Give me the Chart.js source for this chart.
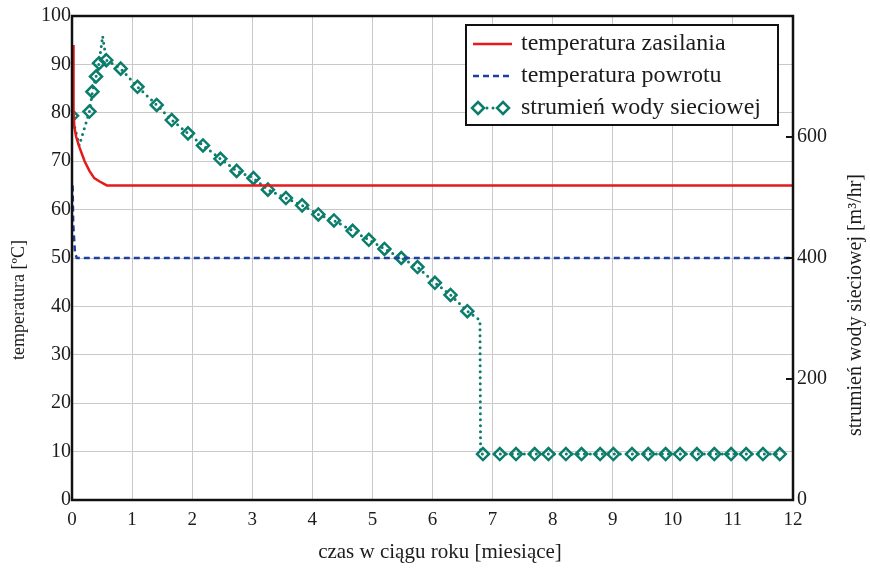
<!DOCTYPE html>
<html>
<head>
<meta charset="utf-8">
<script src="https://cdn.jsdelivr.net/npm/chart.js@4.4.1/dist/chart.umd.min.js"></script>
<style>
    html, body { margin: 0; padding: 0; background: #fff; }
    #wrap { width: 870px; height: 568px; }
</style>
</head>
<body>
<div id="wrap"><canvas id="chart" width="870" height="568"></canvas></div>
<script>
// Tick labels
const monthTicks = [0, 1, 2, 3, 4, 5, 6, 7, 8, 9, 10, 11, 12];
const tempTicks = [0, 10, 20, 30, 40, 50, 60, 70, 80, 90, 100];
const flowTicks = [0, 200, 400, 600];

// temperatura zasilania [°C]
const supplyMonths = [0.02, 0.025, 0.04, 0.07, 0.12, 0.21, 0.29, 0.37, 0.46, 0.58, 12];
const supplyTemp = [94, 80, 77, 75, 73, 70, 68, 66.5, 65.8, 65, 65];

// temperatura powrotu [°C]
const returnMonths = [0.01, 0.02, 0.05, 0.08, 12];
const returnTemp = [65, 57, 51, 50, 50];

// strumień wody sieciowej [m3/hr]
const flowMonths = [0, 0.12, 0.29, 0.34, 0.4, 0.45, 0.51, 0.57, 0.81, 1.09, 1.41, 1.66, 1.93,
    2.18, 2.47, 2.74, 3.02, 3.26, 3.56, 3.83, 4.1, 4.36, 4.67, 4.94, 5.2, 5.48, 5.75,
    6.04, 6.3, 6.58, 6.79, 6.8, 6.84, 7.12, 7.39, 7.7, 7.93, 8.22, 8.48, 8.79, 9.01,
    9.32, 9.59, 9.88, 10.12, 10.4, 10.69, 10.97, 11.22, 11.5, 11.78];
const flowValues = [635, 586, 642, 675, 700, 722, 767, 727, 713, 683, 653, 628, 606,
    586, 564, 544, 532, 513, 499, 487, 472, 462, 445, 430, 415, 400, 385,
    359, 339, 312, 297, 76, 76, 76, 76, 76, 76, 76, 76, 76, 76,
    76, 76, 76, 76, 76, 76, 76, 76, 76, 76];
// bends of the line that carry no marker
const flowBends = [0.12, 0.51, 6.79, 6.8];

const RED = '#e41a1c';
const BLUE = '#1f3f9e';
const TEAL = '#0b7d6b';
const GRID = '#c9c9c9';
const INK = '#1c1c1c';
const SERIF = "'Liberation Serif', 'DejaVu Serif', serif";

function toPoints(xs, ys) {
    return xs.map((x, i) => ({ x: x, y: ys[i] }));
}

const flowPoints = toPoints(flowMonths, flowValues);
const markerPoints = flowPoints.filter(p => !flowBends.includes(p.x));

function fixedTicks(values) {
    return function (scale) {
        scale.ticks = values.map(v => ({ value: v }));
    };
}

// Frame, axis titles, inner ticks and boxed legend
const extras = {
    id: 'extras',
    afterDraw(chart) {
        const ctx = chart.ctx;
        const a = chart.chartArea;
        const y2 = chart.scales.y2;
        ctx.save();

        // frame
        ctx.strokeStyle = '#111';
        ctx.lineWidth = 2.5;
        ctx.strokeRect(a.left, a.top, a.right - a.left, a.bottom - a.top);

        // right axis tick marks (inside)
        ctx.lineWidth = 2;
        flowTicks.forEach(v => {
            if (v === 0) return;
            const py = y2.getPixelForValue(v);
            ctx.beginPath();
            ctx.moveTo(a.right - 7, py);
            ctx.lineTo(a.right, py);
            ctx.stroke();
        });

        // axis titles
        ctx.fillStyle = INK;
        ctx.font = '21px ' + SERIF;
        ctx.textAlign = 'center';
        ctx.textBaseline = 'middle';
        ctx.fillText('czas w ciągu roku [miesiące]', 440, 552);

        ctx.font = '18px ' + SERIF;
        ctx.save();
        ctx.translate(19, 300);
        ctx.rotate(-Math.PI / 2);
        ctx.fillText('temperatura [ºC]', 0, 0);
        ctx.restore();

        ctx.font = '20px ' + SERIF;
        ctx.save();
        ctx.translate(856, 305);
        ctx.rotate(-Math.PI / 2);
        ctx.fillText('strumień wody sieciowej [m³/hr]', 0, 0);
        ctx.restore();

        // legend box
        const lx = 466, ly = 25, lw = 312, lh = 100;
        ctx.fillStyle = '#fff';
        ctx.fillRect(lx, ly, lw, lh);
        ctx.strokeStyle = '#111';
        ctx.lineWidth = 2;
        ctx.strokeRect(lx, ly, lw, lh);

        const rows = [44, 76, 108];
        ctx.lineWidth = 2.5;

        ctx.strokeStyle = RED;
        ctx.beginPath();
        ctx.moveTo(473, rows[0]);
        ctx.lineTo(512, rows[0]);
        ctx.stroke();

        ctx.strokeStyle = BLUE;
        ctx.setLineDash([6, 4]);
        ctx.beginPath();
        ctx.moveTo(473, rows[1]);
        ctx.lineTo(512, rows[1]);
        ctx.stroke();
        ctx.setLineDash([]);

        ctx.strokeStyle = TEAL;
        ctx.fillStyle = TEAL;
        [487, 493].forEach(dx => {
            ctx.beginPath();
            ctx.arc(dx, rows[2], 1.5, 0, Math.PI * 2);
            ctx.fill();
        });
        [478, 503].forEach(dx => {
            ctx.beginPath();
            ctx.moveTo(dx, rows[2] - 6);
            ctx.lineTo(dx + 6, rows[2]);
            ctx.lineTo(dx, rows[2] + 6);
            ctx.lineTo(dx - 6, rows[2]);
            ctx.closePath();
            ctx.stroke();
        });

        ctx.fillStyle = INK;
        ctx.font = '24px ' + SERIF;
        ctx.textAlign = 'left';
        ctx.fillText('temperatura zasilania', 521, rows[0]);
        ctx.fillText('temperatura powrotu', 521, rows[1]);
        ctx.fillText('strumień wody sieciowej', 521, rows[2]);

        ctx.restore();
    }
};

new Chart(document.getElementById('chart'), {
    type: 'line',
    data: {
        datasets: [{
            label: 'temperatura zasilania',
            data: toPoints(supplyMonths, supplyTemp),
            yAxisID: 'y',
            borderColor: RED,
            borderWidth: 2.5,
            pointRadius: 0,
            tension: 0
        }, {
            label: 'temperatura powrotu',
            data: toPoints(returnMonths, returnTemp),
            yAxisID: 'y',
            borderColor: BLUE,
            borderWidth: 2.5,
            borderDash: [6, 4],
            pointRadius: 0,
            tension: 0
        }, {
            label: 'strumień wody sieciowej',
            data: flowPoints,
            yAxisID: 'y2',
            borderColor: TEAL,
            borderWidth: 3,
            borderDash: [0, 6],
            borderCapStyle: 'round',
            pointRadius: 0,
            tension: 0
        }, {
            label: 'strumień wody sieciowej (znaczniki)',
            data: markerPoints,
            yAxisID: 'y2',
            showLine: false,
            pointStyle: 'rectRot',
            pointRadius: 6,
            pointBorderWidth: 2.5,
            pointBorderColor: TEAL,
            pointBackgroundColor: 'rgba(255,255,255,0)'
        }]
    },
    options: {
        responsive: false,
        animation: false,
        devicePixelRatio: 1,
        layout: {
            padding: { top: 15, left: 0, right: 0, bottom: 0 }
        },
        plugins: {
            legend: { display: false },
            tooltip: { enabled: false }
        },
        scales: {
            x: {
                type: 'linear',
                min: 0,
                max: 12,
                afterBuildTicks: fixedTicks(monthTicks),
                afterFit: function (scale) { scale.height = 68; },
                grid: { color: GRID, lineWidth: 1, drawTicks: false },
                border: { display: false },
                ticks: {
                    color: INK,
                    padding: 9,
                    maxRotation: 0,
                    font: { family: SERIF, size: 19 }
                }
            },
            y: {
                position: 'left',
                min: 0,
                max: 100,
                afterBuildTicks: fixedTicks(tempTicks),
                afterFit: function (scale) { scale.width = 72; },
                grid: { color: GRID, lineWidth: 1, drawTicks: false },
                border: { display: false },
                ticks: {
                    color: INK,
                    padding: 1,
                    font: { family: SERIF, size: 20 }
                }
            },
            y2: {
                position: 'right',
                min: 0,
                max: 800,
                afterBuildTicks: fixedTicks(flowTicks),
                afterFit: function (scale) { scale.width = 77; },
                grid: { drawOnChartArea: false, drawTicks: false },
                border: { display: false },
                ticks: {
                    color: INK,
                    padding: 4,
                    font: { family: SERIF, size: 20 }
                }
            }
        }
    },
    plugins: [extras]
});
</script>
</body>
</html>
